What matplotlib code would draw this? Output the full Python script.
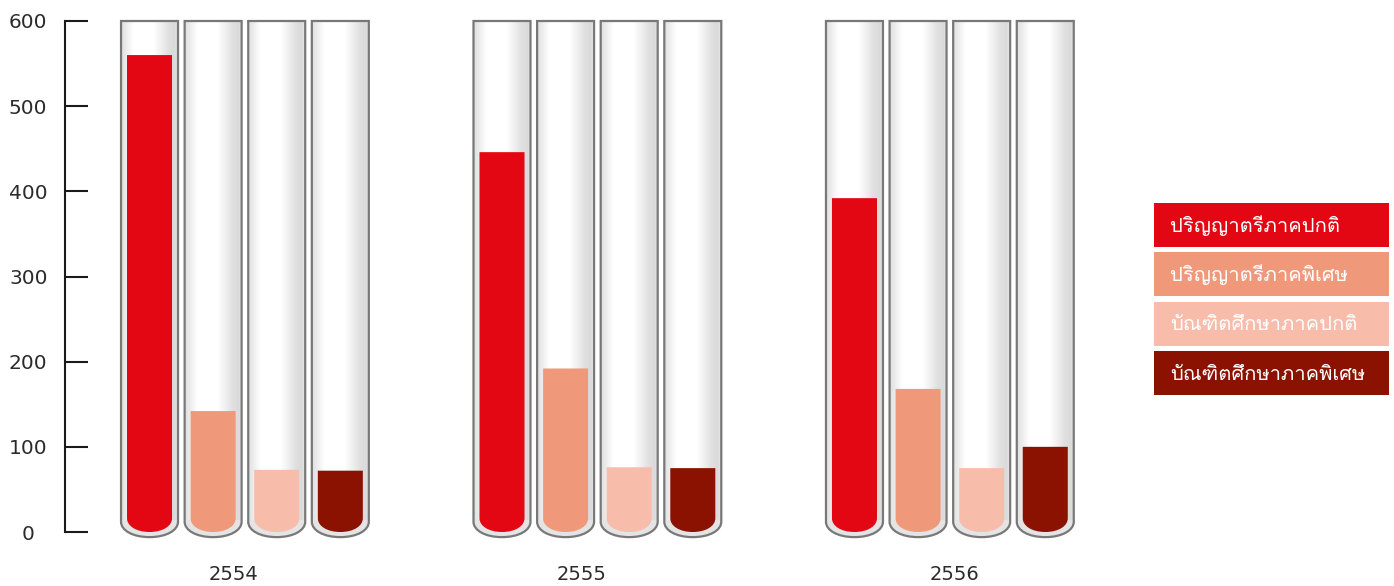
import matplotlib
matplotlib.use("Agg")
import numpy as np
import matplotlib.pyplot as plt
from matplotlib.path import Path
from matplotlib.patches import PathPatch, Rectangle
from matplotlib.colors import to_rgb
from matplotlib import font_manager
from matplotlib.ft2font import FT2Font

# ---- data -------------------------------------------------------------
years = ["2554", "2555", "2556"]
programs = [
    "ปริญญาตรีภาคปกติ",
    "ปริญญาตรีภาคพิเศษ",
    "บัณฑิตศึกษาภาคปกติ",
    "บัณฑิตศึกษาภาคพิเศษ",
]
regular_bachelor = [560, 446, 392]
special_bachelor = [142, 192, 168]
regular_graduate = [73, 76, 75]
special_graduate = [72, 75, 100]
y_ticks = [0, 100, 200, 300, 400, 500, 600]

series = [regular_bachelor, special_bachelor, regular_graduate, special_graduate]
colors = ["#E30613", "#F0997A", "#F8BCAB", "#8B1100"]


# ---- fonts ------------------------------------------------------------
def find_thai_family():
    seen = set()
    for f in font_manager.fontManager.ttflist:
        if f.fname in seen:
            continue
        seen.add(f.fname)
        try:
            cmap = FT2Font(f.fname).get_charmap()
        except Exception:
            continue
        if 0x0E1B in cmap and 0x0E34 in cmap and 0x0E13 in cmap:
            return f.name
    return None


thai_family = find_thai_family()
label_family = [thai_family, "DejaVu Sans"] if thai_family else ["DejaVu Sans"]

# ---- layout -----------------------------------------------------------
W, H = 1394, 586
fig = plt.figure(figsize=(W / 100, H / 100), dpi=100)
ax = fig.add_axes([65 / W, 54 / H, 1035 / W, 511 / H])

group_step = 5.542          # distance between year groups (tube pitch = 1)
tube_half = 0.448           # half width of the glass tube
liquid_half = 0.354         # half width of the liquid column
x_min = -1.329
x_max = x_min + 1035 / 63.6
y_max = 600

ax.set_xlim(x_min, x_max)
ax.set_ylim(0, y_max)


def rounded_column(xc, half, top, side_end, bottom):
    """Vertical column with a rounded bottom, in data coordinates."""
    xl, xr = xc - half, xc + half
    k = (side_end - bottom) * 0.55
    verts = [
        (xl, top), (xl, side_end),
        (xl, side_end - k), (xc - half * 0.6, bottom), (xc, bottom),
        (xc + half * 0.6, bottom), (xr, side_end - k), (xr, side_end),
        (xr, top), (xl, top),
    ]
    codes = [Path.MOVETO, Path.LINETO,
             Path.CURVE4, Path.CURVE4, Path.CURVE4,
             Path.CURVE4, Path.CURVE4, Path.CURVE4,
             Path.LINETO, Path.CLOSEPOLY]
    return Path(verts, codes)


# horizontal glass shading across a tube
stops = [(0.0, "#e0e0e0"), (0.06, "#e8e8e8"), (0.22, "#ffffff"),
         (0.58, "#ffffff"), (0.84, "#e0e0e0"), (0.94, "#dadada"),
         (1.0, "#e6e6e6")]
pos = np.linspace(0, 1, 200)
shade = np.zeros((1, 200, 3))
for c in range(3):
    shade[0, :, c] = np.interp(pos, [s[0] for s in stops],
                               [to_rgb(s[1])[c] for s in stops])

for g in range(len(years)):
    for i, (vals, col) in enumerate(zip(series, colors)):
        xc = g * group_step + i
        tube = rounded_column(xc, tube_half, y_max, 12, -6)
        # glass body with shading
        base = PathPatch(tube, facecolor="#e4e4e4", edgecolor="none",
                         clip_on=False, zorder=1)
        ax.add_patch(base)
        img = ax.imshow(shade, extent=(xc - tube_half, xc + tube_half, 14, y_max),
                        aspect="auto", interpolation="bilinear", zorder=1.5)
        img.set_clip_path(PathPatch(tube, transform=ax.transData))
        # liquid
        liquid = rounded_column(xc, liquid_half, vals[g], 16, 0)
        ax.add_patch(PathPatch(liquid, facecolor=col, edgecolor="none",
                               clip_on=False, zorder=2))
        # glass outline
        ax.add_patch(PathPatch(tube, facecolor="none", edgecolor="#787878",
                               linewidth=1.6, clip_on=False, zorder=3))

ax.set_xlim(x_min, x_max)
ax.set_ylim(0, y_max)

# ---- axes styling -----------------------------------------------------
for side in ("top", "right", "bottom"):
    ax.spines[side].set_visible(False)
ax.spines["left"].set_color("#1a1a1a")
ax.spines["left"].set_linewidth(1.5)

ax.set_yticks(y_ticks)
ax.set_yticklabels([str(v) for v in y_ticks], ha="center",
                   fontsize=14.5, color="#2b2b2b")
ax.tick_params(axis="y", direction="in", length=16.5, width=1.5,
               color="#1a1a1a", pad=26.5)

year_shift = [-0.187, -0.242, 0.08]
ax.set_xticks([g * group_step + 1.5 + s for g, s in enumerate(year_shift)])
ax.set_xticklabels(years, fontsize=14, color="#2b2b2b")
ax.tick_params(axis="x", length=0, pad=24)

# ---- legend boxes -----------------------------------------------------
box_tops = [203, 252, 302, 351]
for name, col, top in zip(programs, colors, box_tops):
    fig.patches.append(Rectangle((1154 / W, 1 - (top + 44) / H), 235 / W, 44 / H,
                                 transform=fig.transFigure, facecolor=col,
                                 edgecolor="none"))
    fig.text(1170 / W, 1 - (top + 23) / H, name, color="white",
             fontsize=14.5, va="center", ha="left", family=label_family)

fig.savefig("out.png", dpi=100)
